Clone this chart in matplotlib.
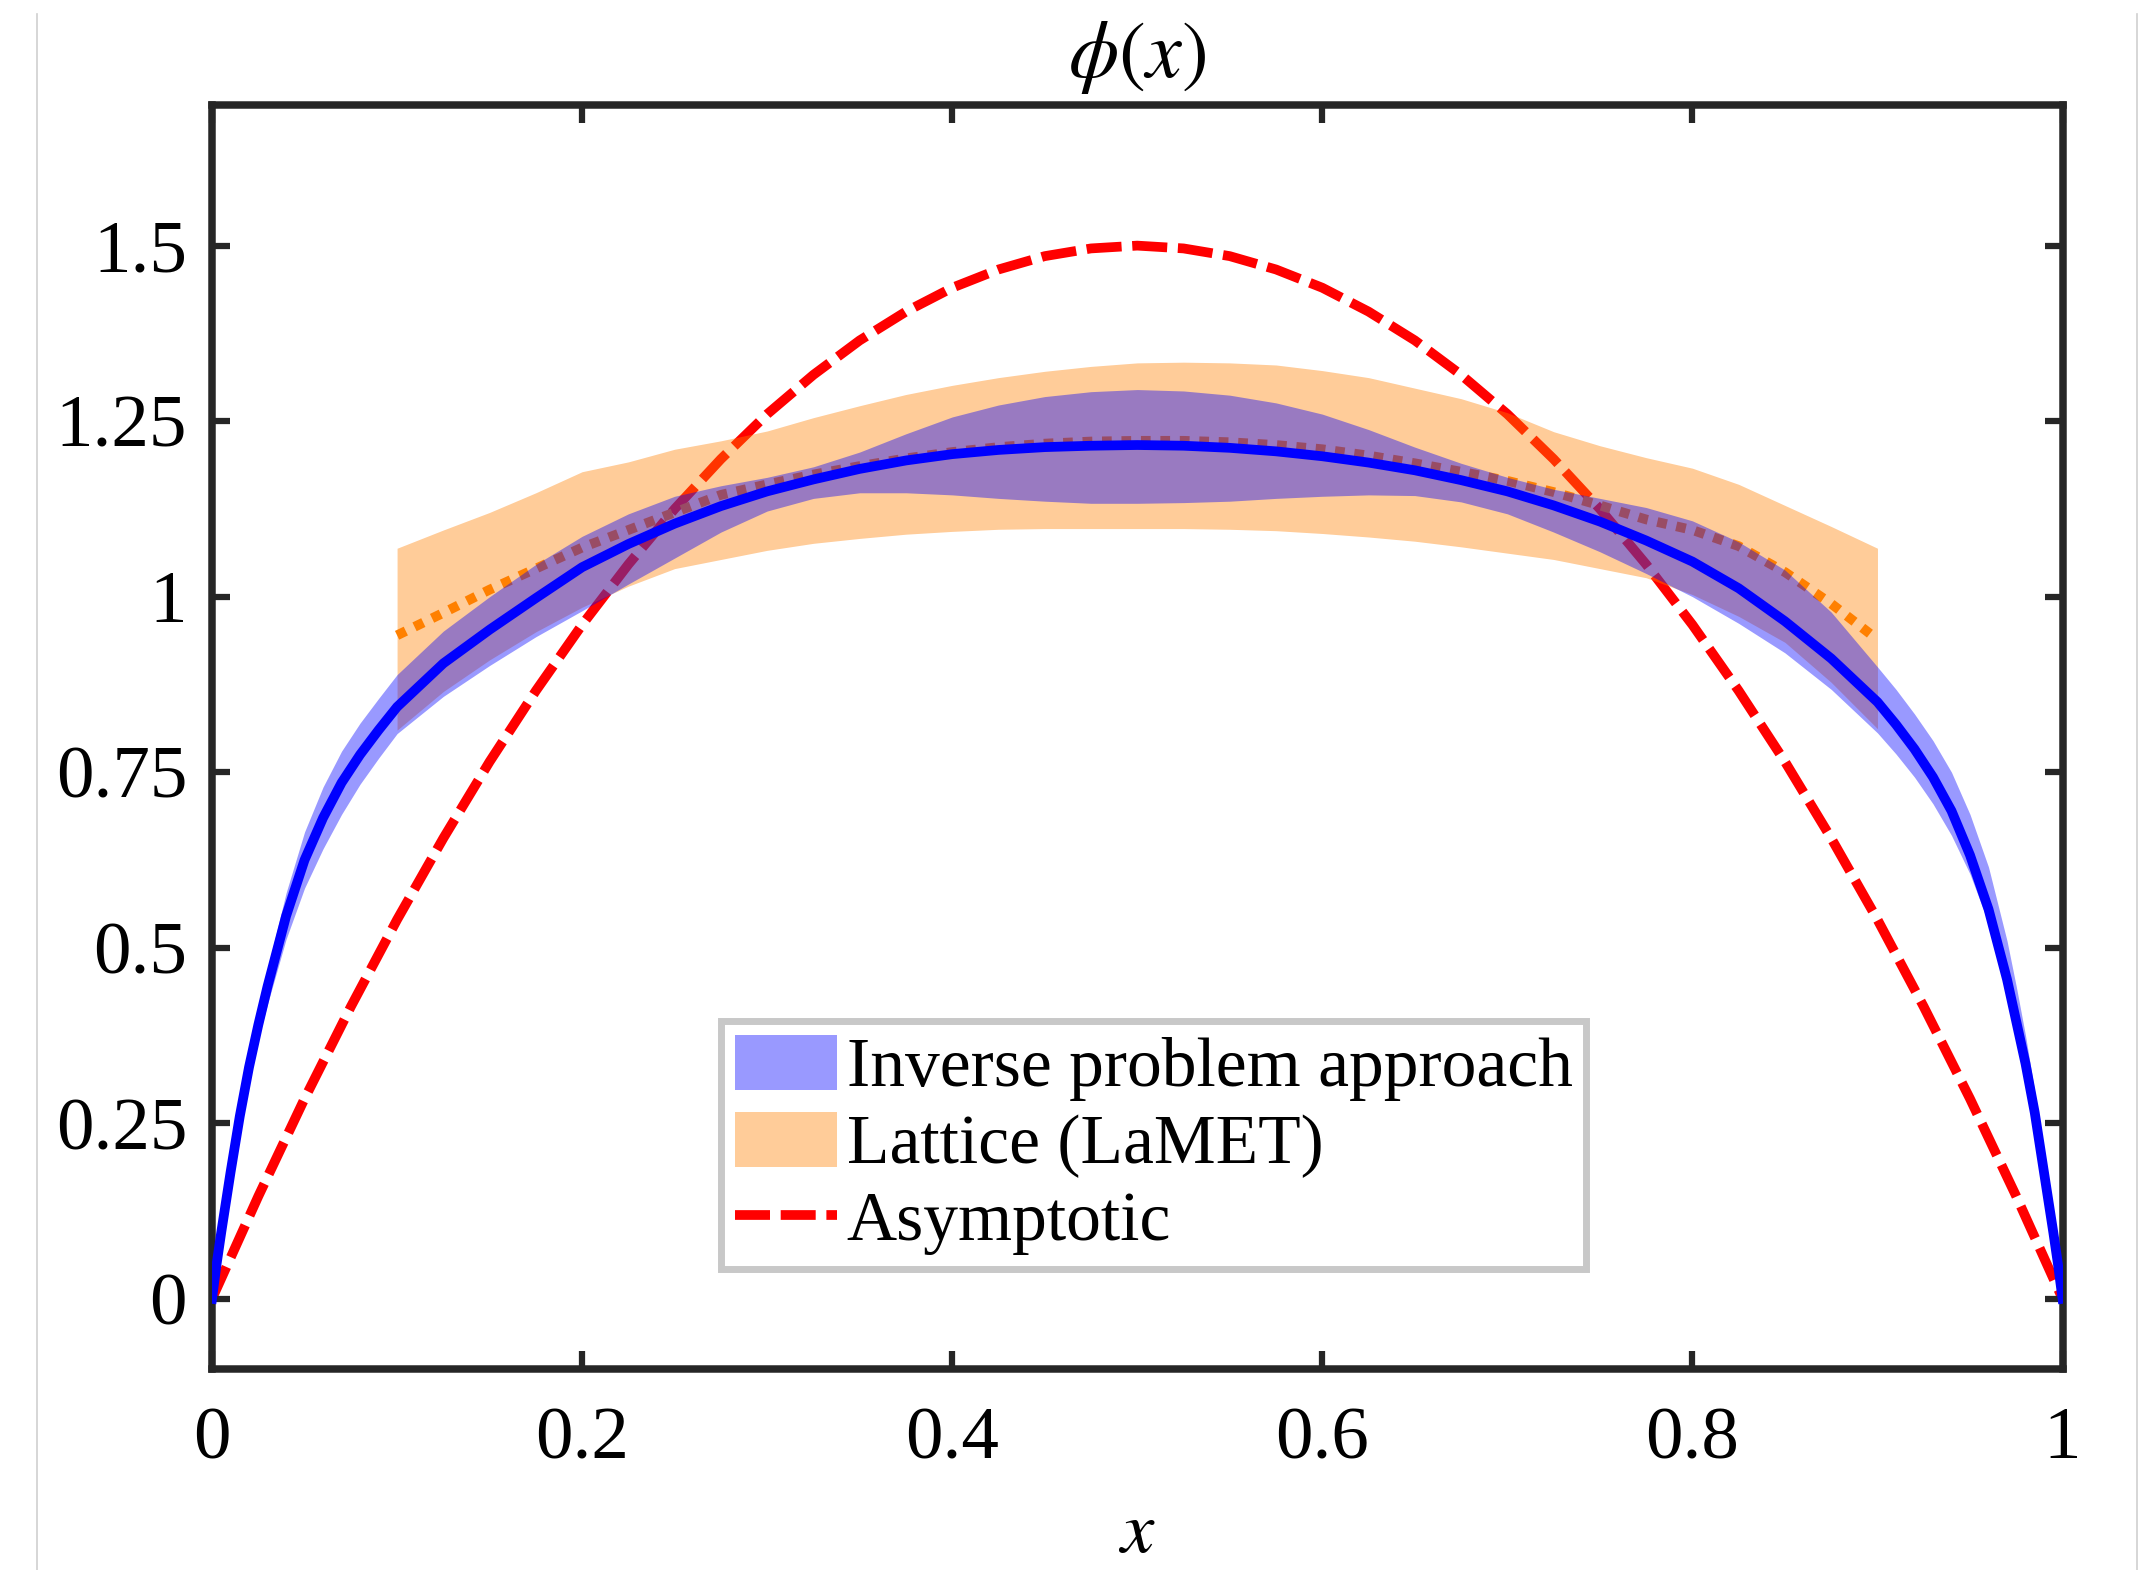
import matplotlib
matplotlib.use("Agg")
import matplotlib.pyplot as plt
from matplotlib.lines import Line2D

plt.rcParams['font.family'] = ['Liberation Serif', 'DejaVu Serif']
plt.rcParams['mathtext.fontset'] = 'stix'

# inverse problem approach: central curve and band
x_inv = [0, 0.0025, 0.005, 0.01, 0.015, 0.02, 0.025, 0.03, 0.04, 0.05,
         0.06, 0.07, 0.08, 0.09, 0.1,
         0.125, 0.15, 0.175, 0.2, 0.225, 0.25, 0.275, 0.3, 0.325, 0.35,
         0.375, 0.4, 0.425, 0.45, 0.475, 0.5, 0.525, 0.55, 0.575, 0.6,
         0.625, 0.65, 0.675, 0.7, 0.725, 0.75, 0.775, 0.8, 0.825, 0.85, 0.875,
         0.9, 0.91, 0.92, 0.93, 0.94, 0.95, 0.96, 0.97,
         0.975, 0.98, 0.985, 0.99, 0.995, 0.9975, 1.0]
inv_mid = [0, 0.05, 0.095, 0.18, 0.26, 0.33, 0.39, 0.445, 0.545, 0.625,
           0.685, 0.735, 0.775, 0.81, 0.843,
           0.905, 0.953, 0.998, 1.042, 1.075, 1.104, 1.129, 1.15, 1.167, 1.182,
           1.194, 1.203, 1.209, 1.213, 1.215, 1.216, 1.215, 1.212, 1.207, 1.2,
           1.191, 1.18, 1.166, 1.15, 1.13, 1.107, 1.08, 1.05, 1.012, 0.965, 0.912,
           0.85, 0.818, 0.783, 0.743, 0.695, 0.632, 0.555, 0.455,
           0.395, 0.335, 0.265, 0.18, 0.095, 0.05, 0]
inv_upper = [0, 0.053, 0.1, 0.19, 0.272, 0.345, 0.41, 0.47, 0.578, 0.665,
             0.729, 0.78, 0.82, 0.855, 0.889,
             0.951, 1.0, 1.046, 1.086, 1.118, 1.143, 1.158, 1.17, 1.185, 1.206,
             1.232, 1.256, 1.273, 1.285, 1.292, 1.295, 1.293, 1.287, 1.276, 1.26,
             1.238, 1.213, 1.19, 1.17, 1.153, 1.14, 1.127, 1.108, 1.078, 1.038, 0.978,
             0.9, 0.868, 0.833, 0.795, 0.75, 0.69, 0.615, 0.51,
             0.445, 0.375, 0.295, 0.2, 0.105, 0.055, 0]
inv_lower = [0, 0.045, 0.09, 0.17, 0.248, 0.315, 0.37, 0.42, 0.512, 0.585,
             0.641, 0.69, 0.733, 0.77, 0.805,
             0.858, 0.902, 0.943, 0.98, 1.018, 1.055, 1.092, 1.122, 1.14, 1.148,
             1.148, 1.145, 1.14, 1.136, 1.133, 1.133, 1.134, 1.136, 1.14, 1.143,
             1.145, 1.144, 1.135, 1.118, 1.092, 1.064, 1.033, 1.0, 0.962, 0.92, 0.868,
             0.806, 0.776, 0.743, 0.705, 0.66, 0.605, 0.535, 0.44,
             0.38, 0.315, 0.245, 0.165, 0.085, 0.045, 0]

# lattice (LaMET) band, x from 0.1 to 0.9
x_lat = [0.1, 0.125, 0.15, 0.175, 0.2, 0.225, 0.25, 0.275, 0.3, 0.325, 0.35,
         0.375, 0.4, 0.425, 0.45, 0.475, 0.5, 0.525, 0.55, 0.575, 0.6,
         0.625, 0.65, 0.675, 0.7, 0.725, 0.75, 0.775, 0.8, 0.825, 0.85,
         0.875, 0.9]
lat_upper = [1.069, 1.095, 1.12, 1.148, 1.178, 1.192, 1.21, 1.222, 1.236, 1.255, 1.272,
             1.288, 1.301, 1.312, 1.321, 1.328, 1.333, 1.334, 1.333, 1.33, 1.322,
             1.312, 1.297, 1.282, 1.262, 1.235, 1.215, 1.198, 1.183, 1.16, 1.13,
             1.1, 1.069]
lat_lower = [0.81, 0.865, 0.91, 0.95, 0.985, 1.015, 1.04, 1.053, 1.066, 1.076, 1.083,
             1.089, 1.093, 1.096, 1.097, 1.097, 1.097, 1.097, 1.096, 1.094, 1.09,
             1.085, 1.079, 1.071, 1.062, 1.053, 1.04, 1.027, 1.003, 0.972, 0.935,
             0.878, 0.812]
lat_mid = [0.945, 0.977, 1.01, 1.04, 1.07, 1.095, 1.12, 1.145, 1.16, 1.174, 1.186,
           1.197, 1.206, 1.213, 1.218, 1.221, 1.222, 1.222, 1.22, 1.216, 1.21,
           1.201, 1.19, 1.178, 1.165, 1.149, 1.13, 1.11, 1.095, 1.072, 1.035,
           0.99, 0.939]

# asymptotic curve
x_asy = [0, 0.025, 0.05, 0.075, 0.1, 0.125, 0.15, 0.175, 0.2, 0.225, 0.25,
         0.275, 0.3, 0.325, 0.35, 0.375, 0.4, 0.425, 0.45, 0.475, 0.5,
         0.525, 0.55, 0.575, 0.6, 0.625, 0.65, 0.675, 0.7, 0.725, 0.75,
         0.775, 0.8, 0.825, 0.85, 0.875, 0.9, 0.925, 0.95, 0.975, 1.0]
asy = [0, 0.146, 0.285, 0.416, 0.54, 0.656, 0.765, 0.866, 0.96, 1.046, 1.125,
       1.196, 1.26, 1.316, 1.365, 1.406, 1.44, 1.466, 1.485, 1.496, 1.5,
       1.496, 1.485, 1.466, 1.44, 1.406, 1.365, 1.316, 1.26, 1.196, 1.125,
       1.046, 0.96, 0.866, 0.765, 0.656, 0.54, 0.416, 0.285, 0.146, 0]

xticks = [0, 0.2, 0.4, 0.6, 0.8, 1]
xtick_labels = ['0', '0.2', '0.4', '0.6', '0.8', '1']
yticks = [0, 0.25, 0.5, 0.75, 1, 1.25, 1.5]
ytick_labels = ['0', '0.25', '0.5', '0.75', '1', '1.25', '1.5']

fig = plt.figure(figsize=(21.46, 15.70), dpi=100)
ax = fig.add_axes([0.0988, 0.128, 0.8623, 0.805])

ax.plot(x_asy, asy, color='#ff0000', lw=7, linestyle=(0, (3.6, 1.1)),
        zorder=1, label='Asymptotic')
ax.plot(x_lat, lat_mid, color='#ff8000', lw=7, linestyle=(0, (1, 1)), zorder=2)
ax.fill_between(x_lat, lat_lower, lat_upper, color='#ff8000', alpha=0.4,
                lw=0, zorder=3, label='Lattice (LaMET)')
ax.fill_between(x_inv, inv_lower, inv_upper, color='#0000ff', alpha=0.4,
                lw=0, zorder=4, label='Inverse problem approach')
ax.plot(x_inv, inv_mid, color='#0000ff', lw=7, zorder=5)

ax.set_xlim(0, 1)
ax.set_ylim(-0.1, 1.7)
ax.set_xticks(xticks)
ax.set_xticklabels(xtick_labels)
ax.set_yticks(yticks)
ax.set_yticklabels(ytick_labels)
ax.tick_params(axis='both', which='major', direction='in', length=13, width=4.5,
               color='#262626', labelsize=54, top=True, right=True)
ax.tick_params(axis='x', pad=27)
ax.tick_params(axis='y', pad=18)
for sp in ax.spines.values():
    sp.set_linewidth(5.4)
    sp.set_color('#262626')

ax.set_title('$\\phi(x)$', fontsize=58, pad=20)
ax.set_xlabel('$x$', fontsize=54, labelpad=20)

h, l = ax.get_legend_handles_labels()
order = [2, 1, 0]
leg = ax.legend([h[i] for i in order], [l[i] for i in order],
                loc='lower left', bbox_to_anchor=(0.275, 0.079),
                fontsize=50, frameon=True, fancybox=False, framealpha=1,
                edgecolor='#c8c8c8', handlelength=1.47, handleheight=0.84,
                handletextpad=0.14, borderpad=0.2, labelspacing=0.15,
                borderaxespad=0)
leg.get_frame().set_linewidth(5)

# faint page borders
fig.add_artist(Line2D([37 / 2146, 37 / 2146], [0, 1 - 14 / 1570],
                      color='#cfcfcf', lw=1.2))
fig.add_artist(Line2D([2137 / 2146, 2137 / 2146], [0, 1 - 14 / 1570],
                      color='#cfcfcf', lw=1.2))

plt.savefig('out.png', dpi=100)
